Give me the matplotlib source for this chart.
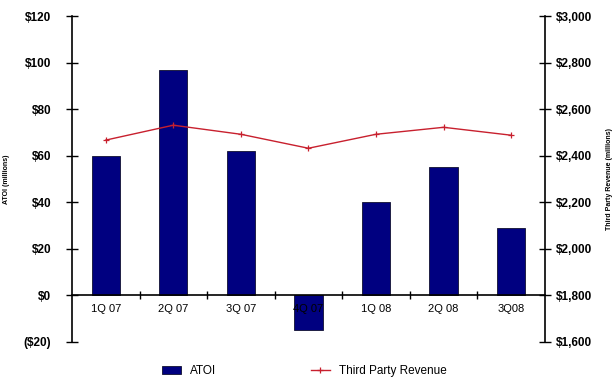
import matplotlib
matplotlib.use("Agg")
import matplotlib.pyplot as plt
from matplotlib.ticker import FixedLocator, FuncFormatter

plt.rcParams['font.family'] = ['Liberation Sans', 'DejaVu Sans']

quarters = ["1Q 07", "2Q 07", "3Q 07", "4Q 07", "1Q 08", "2Q 08", "3Q08"]
atoi = [60, 97, 62, -15, 40, 55, 29]
revenue = [2467, 2531, 2492, 2432, 2492, 2522, 2488]

left_ticks = [-20, 0, 20, 40, 60, 80, 100, 120]
right_ticks = [1600, 1800, 2000, 2200, 2400, 2600, 2800, 3000]


def money(v, _pos=None):
    if v < 0:
        return "(${:,.0f})".format(-v)
    return "${:,.0f}".format(v)


fig = plt.figure(figsize=(6.15, 3.82), dpi=100)
ax = fig.add_axes([0.117, 0.105, 0.769, 0.853])
x = list(range(len(quarters)))

ax.bar(x, atoi, width=0.42, color="#000080", edgecolor="#101030", linewidth=0.6, label="ATOI", zorder=2)
ax.set_axisbelow(False)
ax.set_xlim(-0.5, len(quarters) - 0.5)
ax.set_ylim(-20, 120)

ax.spines['top'].set_visible(False)
ax.spines['right'].set_visible(False)
ax.spines['bottom'].set_position(('data', 0))
ax.spines['bottom'].set_zorder(3)
for s in ('left', 'bottom'):
    ax.spines[s].set_linewidth(1.2)

ax.set_xticks(x)
ax.set_xticklabels(quarters, fontsize=8)
ax.tick_params(axis='x', which='major', length=0, pad=6)
ax.xaxis.set_minor_locator(FixedLocator([i + 0.5 for i in range(len(quarters) - 1)]))
ax.tick_params(axis='x', which='minor', direction='inout', length=6, width=1)

ax.yaxis.set_major_locator(FixedLocator(left_ticks))
ax.yaxis.set_major_formatter(FuncFormatter(money))
ax.tick_params(axis='y', direction='inout', length=8, width=1, labelsize=8.5, pad=11)
for lbl in ax.get_yticklabels():
    lbl.set_fontweight('bold')
ax.set_ylabel("ATOI (millions)", fontsize=5, fontweight='bold', labelpad=10)

ax2 = ax.twinx()
ax2.plot(x, revenue, color="#c8202e", linewidth=1.0, marker='+', markersize=4,
         markeredgewidth=0.9, label="Third Party Revenue", zorder=4)
ax2.set_ylim(1600, 3000)
ax2.set_xlim(-0.5, len(quarters) - 0.5)
for s in ('top', 'bottom', 'left'):
    ax2.spines[s].set_visible(False)
ax2.spines['right'].set_linewidth(1.2)
ax2.yaxis.set_major_locator(FixedLocator(right_ticks))
ax2.yaxis.set_major_formatter(FuncFormatter(money))
ax2.tick_params(axis='y', direction='inout', length=8, width=1, labelsize=8.5, pad=4)
for lbl in ax2.get_yticklabels():
    lbl.set_fontweight('bold')
ax2.set_ylabel("Third Party Revenue (millions)", fontsize=5, fontweight='bold', labelpad=10)

h1, l1 = ax.get_legend_handles_labels()
h2, l2 = ax2.get_legend_handles_labels()
fig.legend(h1 + h2, l1 + l2, loc='lower center', ncol=2, frameon=False, fontsize=8.5,
           bbox_to_anchor=(0.495, -0.015), columnspacing=8, handlelength=1.6,
           handleheight=0.7)

fig.savefig("out.png", dpi=100)
